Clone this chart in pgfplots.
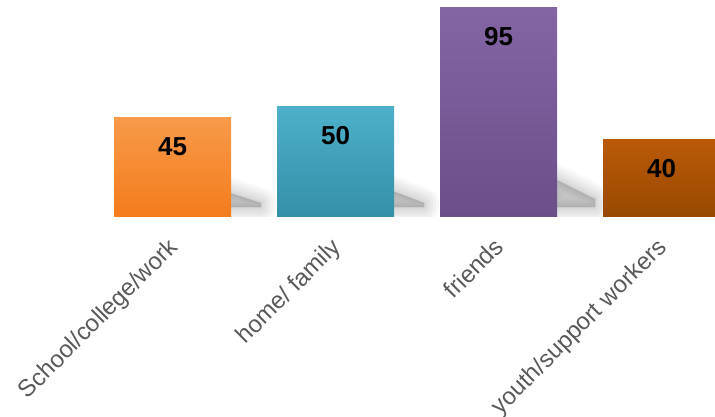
\documentclass[border=0pt]{standalone}
\usepackage{pgfplots}
\pgfplotsset{compat=1.18}
\usepackage{fontspec}
\setmainfont{Liberation Sans}
\definecolor{oTop}{HTML}{F79A4A}
\definecolor{oBot}{HTML}{F47C1C}
\definecolor{aTop}{HTML}{4DB0C9}
\definecolor{aBot}{HTML}{3490A8}
\definecolor{pTop}{HTML}{8465A4}
\definecolor{pBot}{HTML}{6A4F89}
\definecolor{bTop}{HTML}{BA5A08}
\definecolor{bBot}{HTML}{984900}
\definecolor{lbl}{HTML}{595959}
% soft shadow: #1 x of bar right edge, #2 height at bar, #3 length, #4 height at far end, #5 line width
\newcommand{\shl}[5]{%
  \filldraw[black, opacity=0.026, line width=#5pt, line join=round]
    ([shift={(-4pt,9pt)}]axis cs:#1,0) -- ([shift={(-4pt,#2pt)}]axis cs:#1,0)
    -- ([shift={(#3pt,#4pt)}]axis cs:#1,0) -- ([shift={(#3pt,9pt)}]axis cs:#1,0) -- cycle;}
\newcommand{\barshadow}[4]{\shl{#1}{#2}{#3}{#4}{30}\shl{#1}{#2}{#3}{#4}{24}\shl{#1}{#2}{#3}{#4}{18}\shl{#1}{#2}{#3}{#4}{13}\shl{#1}{#2}{#3}{#4}{8}\shl{#1}{#2}{#3}{#4}{4}\shl{#1}{#2}{#3}{#4}{1}}
\begin{document}
\begin{tikzpicture}
\useasboundingbox (0pt,0pt) rectangle (715pt,416pt);
\begin{axis}[
  at={(0pt,200pt)}, anchor=south west,
  scale only axis, width=715pt, height=216pt,
  xmin=-1.0583, xmax=3.3282, ymin=0, ymax=98.63,
  axis line style={draw=none},
  major tick length=0pt,
  ytick=\empty,
  xtick={0,1,2,3},
  xticklabels={School/college/work,home/ family,friends,youth/support workers},
  xticklabel style={xshift=-6pt, yshift=-20pt, rotate=45, anchor=north east, inner sep=0pt,
    font=\fontsize{24}{27}\selectfont, text=lbl},
]
\barshadow{0.359}{24}{30}{13}
\barshadow{1.359}{26}{30}{13}
\barshadow{2.359}{38}{38}{17}
\addplot[ybar, bar width=117pt, bar shift=0pt, draw=none, top color=oTop, bottom color=oBot] coordinates {(0,45)};
\addplot[ybar, bar width=117pt, bar shift=0pt, draw=none, top color=aTop, bottom color=aBot] coordinates {(1,50)};
\addplot[ybar, bar width=117pt, bar shift=0pt, draw=none, top color=pTop, bottom color=pBot] coordinates {(2,95)};
\addplot[ybar, bar width=117pt, bar shift=0pt, draw=none, top color=bTop, bottom color=bBot] coordinates {(3,35)};
\addplot[draw=none, mark=none, nodes near coords, point meta=explicit symbolic,
  every node near coord/.append style={anchor=center, yshift=-29pt, text=black,
    font=\fontsize{26}{28}\selectfont\bfseries}]
  coordinates {(0,45)[45] (1,50)[50] (2,95)[95] (3,35)[40]};
\end{axis}
\end{tikzpicture}
\end{document}
